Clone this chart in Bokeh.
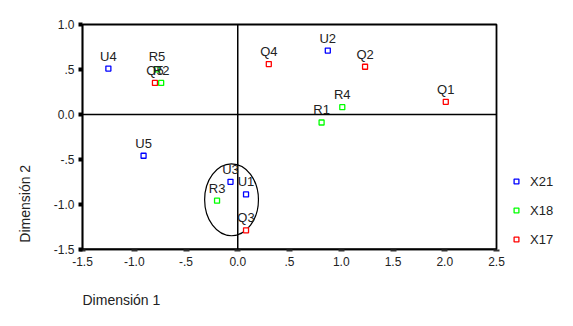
from bokeh.plotting import figure
from bokeh.models import ColumnDataSource, FixedTicker, Legend, LegendItem, Range1d, Label
from bokeh.embed import file_html
from bokeh.resources import INLINE
from bokeh.core.properties import value
import math

# Data
x21_names = ["U1", "U2", "U3", "U4", "U5"]
x21_d1 = [0.08, 0.87, -0.07, -1.25, -0.91]
x21_d2 = [-0.89, 0.71, -0.75, 0.51, -0.46]

x18_names = ["R1", "R2", "R3", "R4", "R5"]
x18_d1 = [0.81, -0.74, -0.20, 1.01, -0.78]
x18_d2 = [-0.09, 0.35, -0.96, 0.08, 0.50]

x17_names = ["Q1", "Q2", "Q3", "Q4", "Q5"]
x17_d1 = [2.01, 1.23, 0.08, 0.30, -0.80]
x17_d2 = [0.14, 0.53, -1.29, 0.56, 0.35]

series_names = ["X21", "X18", "X17"]
series_colors = ["#0000ff", "#00ff00", "#ff0000"]

x_ticks = [-1.5, -1.0, -0.5, 0.0, 0.5, 1.0, 1.5, 2.0, 2.5]
x_tick_labels = ["-1.5", "-1.0", "-.5", "0.0", ".5", "1.0", "1.5", "2.0", "2.5"]
y_ticks = [-1.5, -1.0, -0.5, 0.0, 0.5, 1.0]
y_tick_labels = ["-1.5", "-1.0", "-.5", "0.0", ".5", "1.0"]

x_lo, x_hi = -1.5, 2.5
y_lo, y_hi = -1.5, 1.0

ellipse_center = (-0.06, -0.95)
ellipse_size = (0.52, 0.80)

FONT = "Liberation Sans"

W, H = 557, 310
box_top_px = 24
box_left_px = 82
px_x = 103.5
px_y = 89.9
x_start = x_lo - box_left_px / px_x
x_end = x_start + W / px_x
y_end = y_hi + box_top_px / px_y
y_start = y_end - H / px_y

p = figure(width=W, height=H, output_backend="svg", toolbar_location=None,
           x_range=Range1d(x_start, x_end), y_range=Range1d(y_start, y_end),
           min_border_left=0, min_border_right=0, min_border_top=0, min_border_bottom=0)
p.xgrid.visible = False
p.ygrid.visible = False
p.outline_line_color = None

# axes
p.xaxis.ticker = FixedTicker(ticks=x_ticks)
p.xaxis.major_label_overrides = {t: l for t, l in zip(x_ticks, x_tick_labels)}
p.xaxis.bounds = (x_lo, x_hi)
p.xaxis.fixed_location = y_lo
p.yaxis.ticker = FixedTicker(ticks=y_ticks)
p.yaxis.major_label_overrides = {t: l for t, l in zip(y_ticks, y_tick_labels)}
p.yaxis.bounds = (y_lo, y_hi)
p.yaxis.fixed_location = x_lo
for ax in (p.xaxis, p.yaxis):
    ax.axis_line_color = "black"
    ax.axis_line_width = 1.5
    ax.minor_tick_line_color = None
    ax.major_tick_in = 0
    ax.major_label_text_font = FONT
    ax.major_label_text_font_size = "12px"
    ax.major_label_text_color = "#222222"
p.yaxis.major_tick_out = 4
p.yaxis.major_tick_line_width = 4
p.yaxis.major_tick_line_color = "black"
p.yaxis.major_label_standoff = 4
p.xaxis.major_tick_out = 2
p.xaxis.major_tick_line_width = 6
p.xaxis.major_tick_line_color = "#333333"
p.xaxis.major_label_standoff = 6

# plot box
p.quad(left=[x_lo], right=[x_hi], bottom=[y_lo], top=[y_hi], fill_color=None,
       line_color="black", line_width=1.8)

# zero lines
p.segment(x0=[0], y0=[y_lo], x1=[0], y1=[y_hi], line_color="black", line_width=1.5)
p.segment(x0=[x_lo], y0=[0], x1=[x_hi], y1=[0], line_color="black", line_width=1.5)

# ellipse
p.ellipse(x=[ellipse_center[0]], y=[ellipse_center[1]], width=[ellipse_size[0]],
          height=[ellipse_size[1]], fill_color=None, line_color="black", line_width=1.2)

items = []
for name, color, d1, d2, labels in zip(series_names, series_colors,
                                        [x21_d1, x18_d1, x17_d1],
                                        [x21_d2, x18_d2, x17_d2],
                                        [x21_names, x18_names, x17_names]):
    src = ColumnDataSource(dict(x=d1, y=d2, t=labels))
    r = p.scatter("x", "y", source=src, marker="square", size=5,
                  fill_color="white", line_color=color, line_width=1.3)
    p.text("x", "y", text="t", source=src, text_align="center", text_baseline="bottom",
           y_offset=-5, text_font=value(FONT), text_font_size="13px", text_color="#222222")
    items.append(LegendItem(label=name, renderers=[r]))

legend = Legend(items=items, location=(502, 61), margin=0, padding=0, spacing=9,
                glyph_width=28, glyph_height=12, label_height=20, label_standoff=0,
                border_line_color=None, background_fill_alpha=0,
                label_text_font=FONT, label_text_font_size="13px", label_text_color="#222222")
p.add_layout(legend)

p.add_layout(Label(x=x_lo, y=-2.059, text="Dimensión 1", text_font=FONT,
                   text_font_size="14px", text_align="left", text_baseline="middle",
                   text_color="#222222"))
p.add_layout(Label(x=-2.056, y=-0.994, text="Dimensión 2", text_font=FONT,
                   text_font_size="14px", text_align="center", text_baseline="middle",
                   angle=math.pi / 2, text_color="#222222"))

open("out.html", "w").write(file_html(p, INLINE))
